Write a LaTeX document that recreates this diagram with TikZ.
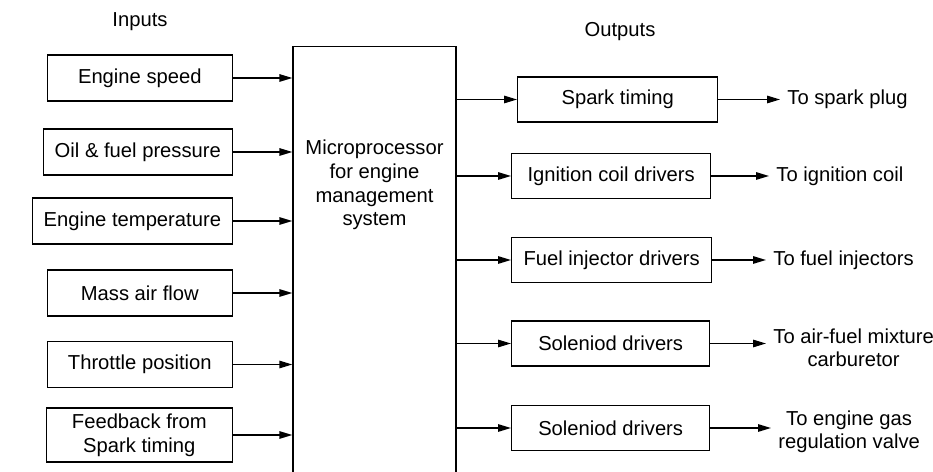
\documentclass[tikz,border=0pt]{standalone}
\usepackage{fontspec}
\setmainfont{Liberation Sans}
\usetikzlibrary{arrows.meta}
\tikzset{
  blk/.style={draw, line width=0.8pt, minimum height=0.92cm, inner sep=2pt, align=center,
    font=\fontsize{11.5}{13.5}\selectfont},
  lbl/.style={font=\fontsize{11.5}{13}\selectfont, align=center},
  sig/.style={line width=0.8pt, -{Triangle[length=2.6mm,width=1.5mm]}}
}
\begin{document}
\begin{tikzpicture}[x=0.02cm, y=-0.02cm]
  \useasboundingbox (0,0) rectangle (933,472);
  \clip (0,0) rectangle (933,472);

  % Headings
  \node[lbl] (hin) at (140,22) {Inputs};
  \node[lbl] (hout) at (620,32) {Outputs};

  % Microprocessor block (runs off the bottom edge)
  \node[blk, minimum width=3.26cm, minimum height=9cm, anchor=north] (mp) at (374.5,46) {};
  \node[lbl, font=\fontsize{11.5}{13.5}\selectfont] (mptext) at (374.5,185) {Microprocessor\\for engine\\management\\system};

  % Inputs: right edges at x=233
  \foreach \name/\y/\w/\h/\txt in {
      es/78/3.7/0.92/Engine speed,
      ofp/152/3.78/0.92/Oil \& fuel pressure,
      et/221/4.0/0.92/Engine temperature,
      maf/293/3.7/0.92/Mass air flow,
      tp/364.5/3.7/0.92/Throttle position,
      fb/435/3.72/1.08/{Feedback from\\Spark timing}} {
    \node[blk, minimum width=\w cm, minimum height=\h cm, anchor=east] (\name) at (233,\y) {\txt};
    \draw[sig] (\name.east) -- (\name.east -| mp.west);
  }

  % Outputs: driver blocks and where they go
  \foreach \name/\x/\y/\w/\txt/\lx/\ly/\out in {
      st/517/99.5/4.0/Spark timing/780/99.5/To spark plug,
      ic/511/176/3.98/Ignition coil drivers/769/176/To ignition coil,
      fi/511/260/4.0/Fuel injector drivers/766/260/To fuel injectors,
      sa/511/343.5/3.96/Soleniod drivers/766/347.5/{To air-fuel mixture\\carburetor},
      sb/511/428/3.96/Soleniod drivers/771/432/{To engine gas\\regulation valve}} {
    \node[blk, minimum width=\w cm, minimum height=0.9cm, anchor=west] (\name) at (\x,\y) {\txt};
    \draw[sig] (mp.east |- \name.west) -- (\name.west);
    \node[lbl, anchor=west, inner sep=4pt] (\name-to) at (\lx,\ly) {\out};
    \draw[sig] (\name.east) -- (\name.east -| \name-to.west);
  }
\end{tikzpicture}
\end{document}
